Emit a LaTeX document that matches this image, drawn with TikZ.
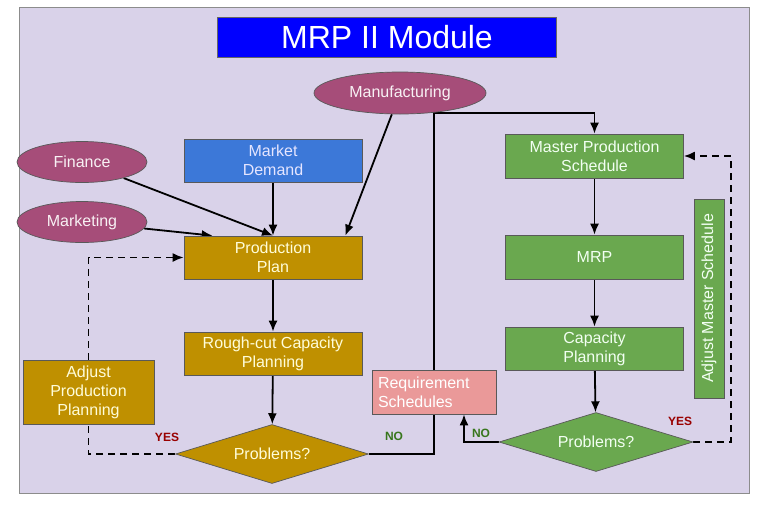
\documentclass[tikz,border=0pt]{standalone}
\usepackage{fontspec}
\setmainfont{Liberation Sans}
\usepackage{xcolor}
\usepackage{tikz}
\usetikzlibrary{positioning,arrows.meta,shapes.geometric}

\definecolor{panelbg}{HTML}{D9D2E9}
\definecolor{titlefill}{HTML}{0000FF}
\definecolor{deptfill}{HTML}{A64D79}
\definecolor{demandfill}{HTML}{3C78D8}
\definecolor{goldfill}{HTML}{BF9000}
\definecolor{greenfill}{HTML}{6AA84F}
\definecolor{pinkfill}{HTML}{EA9999}
\definecolor{yescol}{HTML}{990000}
\definecolor{nocol}{HTML}{38761D}

\pgfdeclarelayer{panel}
\pgfdeclarelayer{wires}
\pgfsetlayers{panel,wires,main}

\tikzset{
  every node/.style={font=\fontsize{16}{19}\selectfont},
  block/.style={draw=black!65, line width=0.7pt, rectangle, align=center,
    minimum width=178pt, minimum height=44pt, inner sep=2pt},
  goldblock/.style={block, fill=goldfill, text=yellow!15},
  greenblock/.style={block, fill=greenfill, text=green!5},
  dept/.style={draw=black!65, line width=0.7pt, ellipse, fill=deptfill,
    text=white!92!deptfill, minimum width=130pt, minimum height=41pt,
    font=\fontsize{16}{19}\selectfont},
  decision/.style={diamond, draw=black!65, line width=0.7pt, aspect=3.2,
    inner sep=1pt, minimum width=193pt, minimum height=59pt},
  flow/.style={-{Latex[length=11pt,width=9pt]}, line width=1.8pt},
  feedback/.style={flow, dash pattern=on 7pt off 5pt},
  yeslabel/.style={font=\bfseries\fontsize{12}{13}\selectfont, text=yescol},
  nolabel/.style={font=\bfseries\fontsize{12}{13}\selectfont, text=nocol}
}

\begin{document}
\begin{tikzpicture}[x=1pt, y=-1pt]
\useasboundingbox (0,0) rectangle (768,512);

% panel
\begin{pgfonlayer}{panel}
\fill[white] (0,0) rectangle (768,512);
\draw[fill=panelbg, draw=black!45, line width=1pt] (19,7) rectangle (749,493);
\end{pgfonlayer}

% title
\node[draw=black!60, fill=titlefill, text=white, minimum width=339pt,
  minimum height=40pt, font=\fontsize{32}{36}\selectfont] (title) at (387,37) {MRP II Module};

% departments
\node[dept, minimum width=172pt, minimum height=42pt] (manufacturing) at (400,93) {Manufacturing};
\node[dept] (finance) at (82,162) {Finance};
\node[dept] (marketing) at (82,222) {Marketing};

% production side
\node[block, fill=demandfill, text=blue!10, minimum height=43pt] (demand) at (273,160.5) {Market\\Demand};
\node[goldblock, minimum height=43pt] (plan) at (273,257.5) {Production\\Plan};
\node[goldblock, minimum height=43pt] (roughcut) at (273,353.5) {Rough-cut Capacity\\Planning};
\node[goldblock, minimum width=131pt, minimum height=64pt] (adjustplan) at (88.5,392) {Adjust\\Production\\Planning};
\node[decision, fill=goldfill, text=yellow!15] (leftcheck) at (272,454) {Problems?};

% requirement schedules
\node[block, fill=pinkfill, text=white, minimum width=124pt, minimum height=44pt,
  align=left, text width=112pt] (reqsched) at (434,392) {Requirement\\Schedules};

% master side
\node[greenblock] (mps) at (594.5,156) {Master Production\\Schedule};
\node[greenblock] (mrp) at (594.5,257) {MRP};
\node[greenblock, minimum height=43pt] (capacity) at (594.5,348.5) {Capacity\\Planning};
\node[greenblock, rotate=90, minimum width=199pt, minimum height=30pt] (adjustmaster) at (709,298.5) {Adjust Master Schedule};
\node[decision, fill=greenfill, text=green!5, minimum width=194pt] (rightcheck) at (596,442) {Problems?};

\coordinate (topbend) at (434,113);
\coordinate (masterloop) at (731,442);

\begin{pgfonlayer}{wires}
\draw[flow] (finance) -- (plan.north);
\draw[flow] (marketing) -- ([xshift=29pt]plan.north west);
\draw[flow] (manufacturing) -- ([xshift=-17pt]plan.north east);
\draw[flow] (demand) -- (plan);
\draw[flow] (plan) -- (roughcut);
\draw[flow] (roughcut) -- (leftcheck);
\draw[feedback] (leftcheck.west) -| (adjustplan) |- (plan.west);
\draw[flow] (leftcheck.east) -| (topbend) -| (mps.north);
\draw[flow] (mps) -- (mrp);
\draw[flow] (mrp) -- (capacity);
\draw[flow] (capacity) -- (rightcheck);
\draw[flow] (rightcheck.west) -| ([xshift=30pt]reqsched.south);
\draw[feedback] (rightcheck.east) -- (masterloop) |- (mps.east);
\end{pgfonlayer}

% branch labels
\node[yeslabel] (leftyes) at (167,437) {YES};
\node[nolabel] (leftno) at (394,436) {NO};
\node[nolabel] (rightno) at (481,433) {NO};
\node[yeslabel] (rightyes) at (680,421) {YES};

\end{tikzpicture}
\end{document}
